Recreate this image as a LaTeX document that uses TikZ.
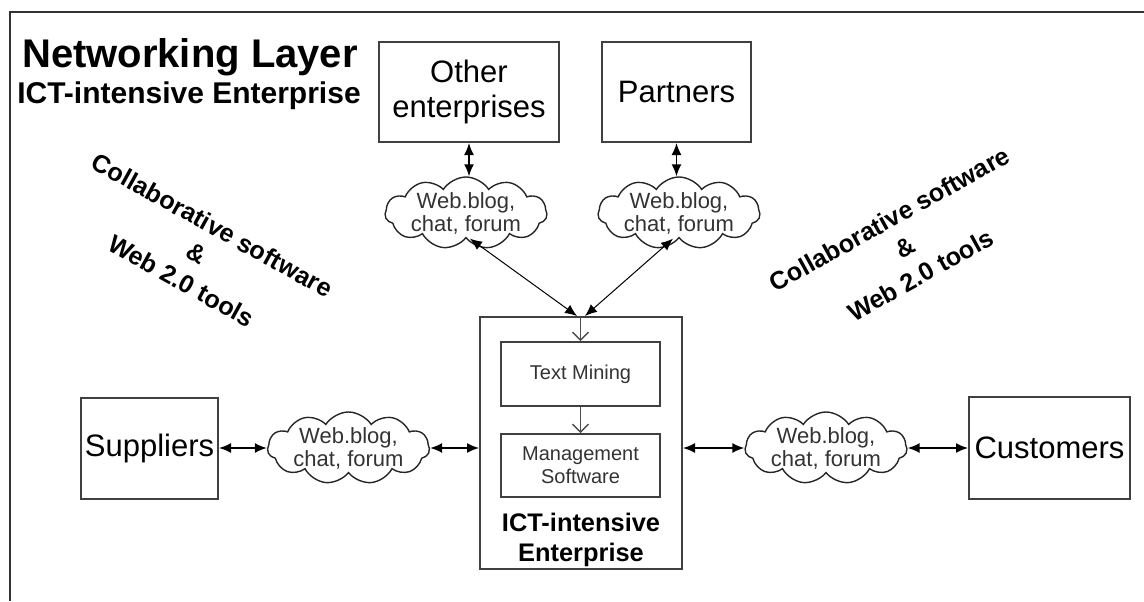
\documentclass[tikz,border=0pt]{standalone}
\usepackage{fontspec}
\setmainfont{Liberation Sans}
\usetikzlibrary{arrows.meta,shapes.symbols,positioning}

\begin{document}
\begin{tikzpicture}[x=0.5pt, y=0.5pt,
  box/.style={draw=black!75, line width=1pt, align=center, inner sep=0pt,
    font=\fontsize{15.5}{17.5}\selectfont},
  inbox/.style={draw=black!75, line width=0.8pt, align=center, inner sep=0pt,
    minimum width=79.5pt, minimum height=32pt, font=\fontsize{10}{11.5}\selectfont, text=black!80},
  webcloud/.style={cloud, cloud puffs=11, cloud puff arc=115, draw=black!85,
    line width=0.7pt, minimum width=81pt, minimum height=36pt, inner sep=0pt},
  cloudtext/.style={align=center, font=\fontsize{11}{11.5}\selectfont, text=black!80},
  tool/.style={align=center, font=\bfseries\fontsize{12.6}{16}\selectfont},
  link/.style={{Latex[length=6pt,width=5pt]}-{Latex[length=6pt,width=5pt]}, line width=0.8pt},
  thinlink/.style={link, line width=0.5pt},
  flow/.style={-{Straight Barb[length=4pt,width=8pt]}, line width=0.7pt, draw=black!70}]

\useasboundingbox (0,0) rectangle (1144,601);
% outer frame
\draw[line width=1.2pt, black!80] (10,0) -- (10,589) -- (1144,589);

% title
\node (title) at (190,544) {\bfseries\fontsize{20}{24}\selectfont Networking Layer};
\node (subtitle) at (189,505) {\bfseries\fontsize{15}{18}\selectfont ICT-intensive Enterprise};

% enterprise in the middle
\node (ent) [draw=black!75, line width=1pt, minimum width=101pt, minimum height=126pt] at (581,158) {};
\node (tm) [inbox] at (580.5,227) {Text Mining};
\node (ms) [inbox, minimum height=31.5pt] at (580.5,135.5) {Management\\Software};
\node (entlabel) [align=center, font=\bfseries\fontsize{12.7}{15}\selectfont] at (581,61) {ICT-intensive\\Enterprise};
\draw[flow] (tm.north |- ent.north) -- (tm.north);
\draw[flow] (tm.south) -- (ms.north);

% top row
\node (other) [box, minimum width=90pt, minimum height=50pt] at (469,509) {Other\\enterprises};
\node (part) [box, minimum width=74.5pt, minimum height=50pt] at (676.5,509) {Partners};
\node (cl1) [webcloud] at (466,388) {};
\node (cl1t) [cloudtext] at (cl1) {Web.blog,\\chat, forum};
\node (cl2) [webcloud] at (679,388) {};
\node (cl2t) [cloudtext] at (cl2) {Web.blog,\\chat, forum};
\draw[link] (other.south) -- (other.south |- cl1.north);
\draw[link] (part.south) -- (part.south |- cl2.north);
\draw[thinlink] ([xshift=2pt]cl1.south) -- ([xshift=-2pt]ent.north);
\draw[thinlink] ([xshift=-3pt]cl2.south) -- ([xshift=2pt]ent.north);

% bottom row
\node (sup) [box, minimum width=68.5pt, minimum height=50.5pt] at (149.5,153) {Suppliers};
\node (cl3) [webcloud] at (348.5,153) {};
\node (cl3t) [cloudtext] at (cl3) {Web.blog,\\chat, forum};
\node (cl4) [webcloud] at (826,153) {};
\node (cl4t) [cloudtext] at (cl4) {Web.blog,\\chat, forum};
\node (cus) [box, minimum width=80.5pt, minimum height=51pt] at (1049.5,153) {Customers};
\draw[link] (sup.east) -- (cl3.west);
\draw[link] (cl3.east) -- (cl3.east -| ent.west);
\draw[link] (cl4.west -| ent.east) -- (cl4.west);
\draw[link] (cl4.east) -- (cus.west);

% tools
\node (toolsl) [tool, rotate=-29] at (197,348) {Collaborative software\\\&\\Web 2.0 tools};
\node (toolsr) [tool, rotate=29] at (905,354) {Collaborative software\\\&\\Web 2.0 tools};
\end{tikzpicture}
\end{document}
